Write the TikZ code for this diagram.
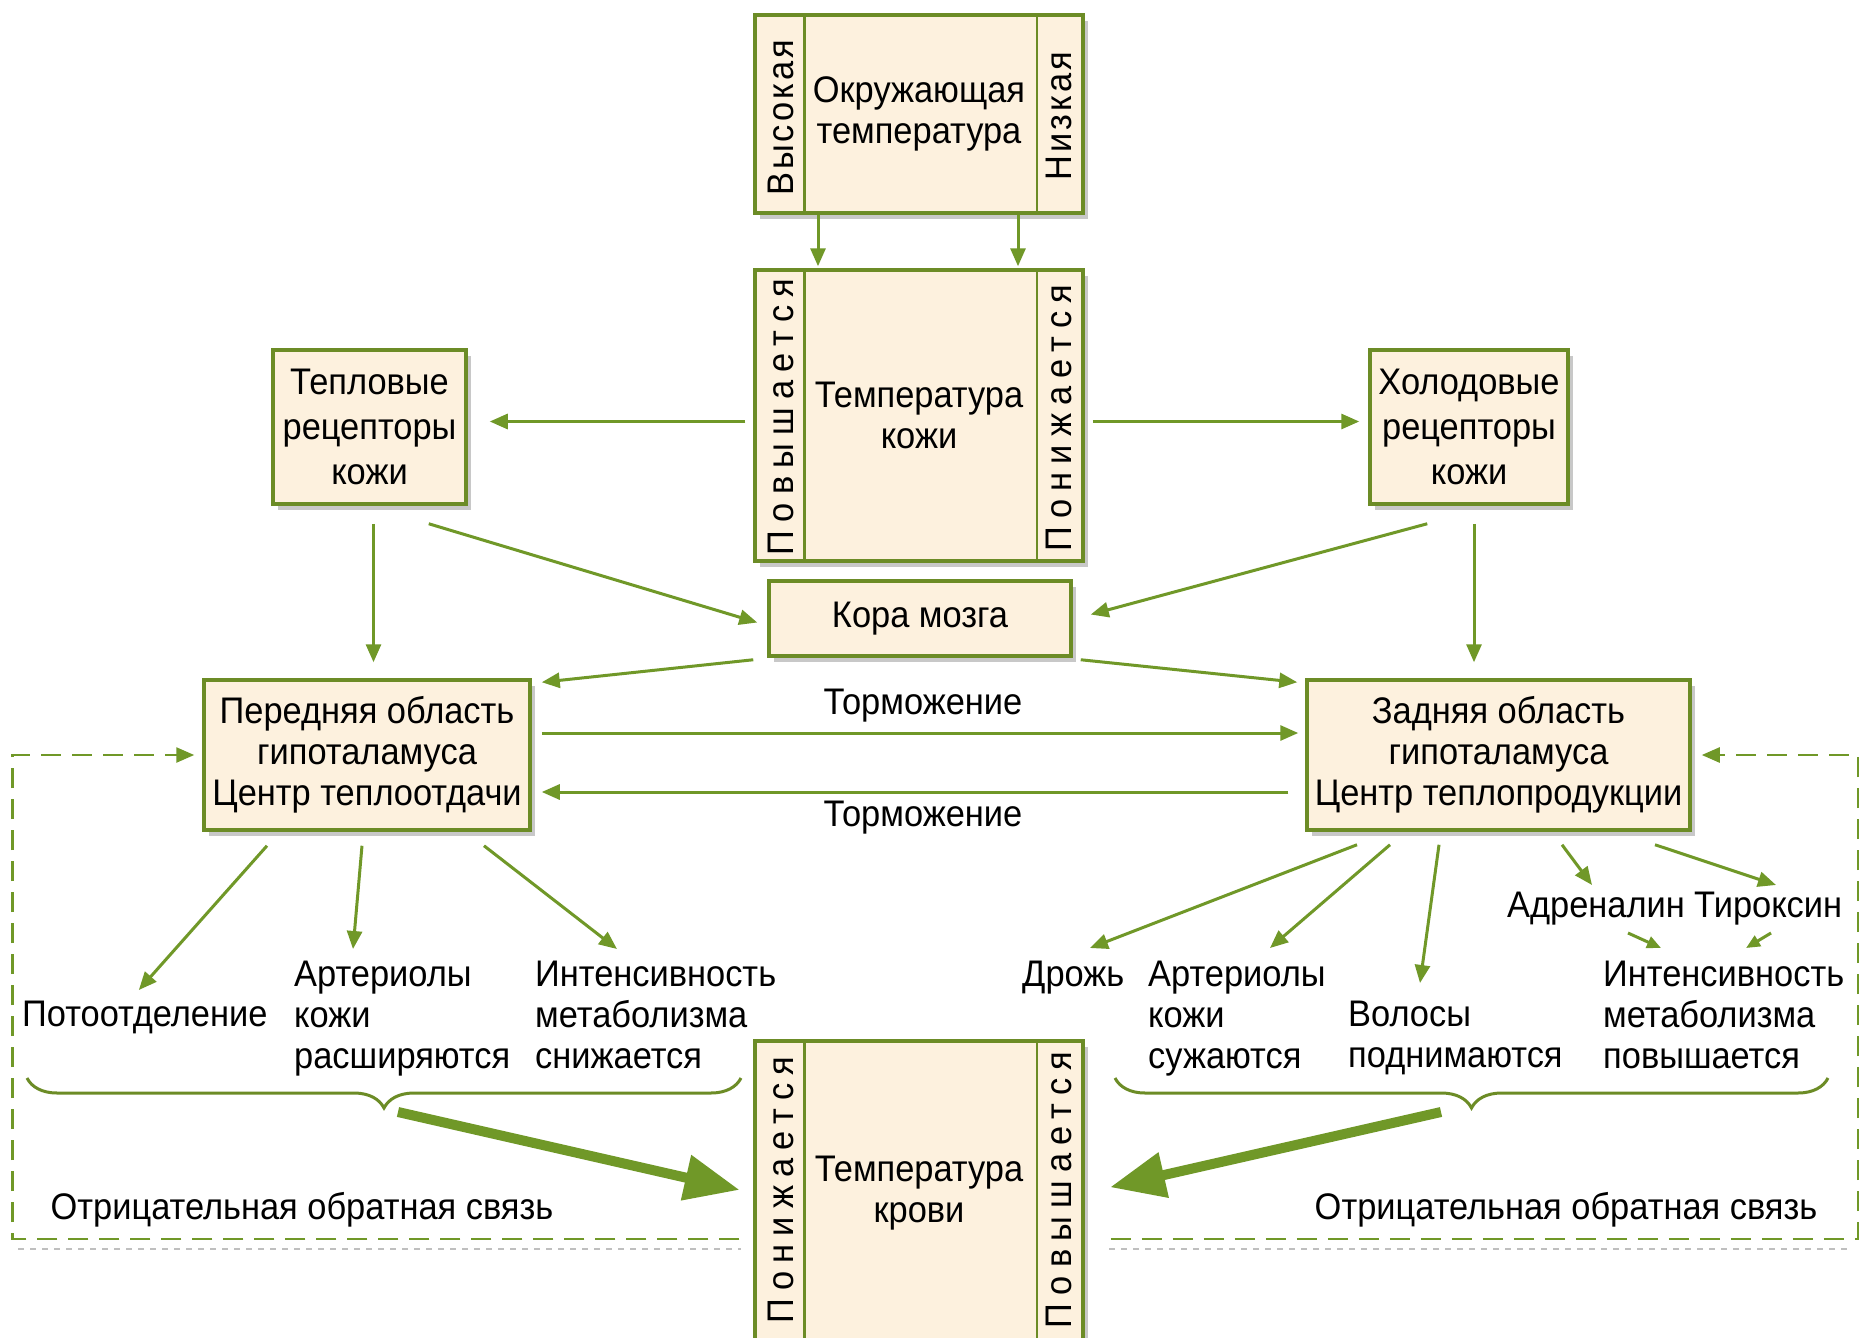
\documentclass[tikz,border=0pt]{standalone}
\usepackage{fontspec}
\setmainfont{Liberation Sans}[FakeStretch=0.93]
\newfontfamily\spcA{Liberation Sans}[FakeStretch=0.93,LetterSpace=22]
\newfontfamily\spcB{Liberation Sans}[FakeStretch=0.93,LetterSpace=8]
\usetikzlibrary{arrows.meta,shadows,decorations.pathreplacing,calc}
\definecolor{bord}{RGB}{108,140,38}
\definecolor{arrg}{RGB}{112,152,40}
\definecolor{fillb}{RGB}{253,241,222}
\newcommand\fsz{\fontsize{37}{41}\selectfont}
\newcommand\fszw{\fontsize{37}{45}\selectfont}
\begin{document}
\begin{tikzpicture}[x=1pt,y=-1pt,
  box/.style={draw=bord,line width=3.5pt,fill=fillb,align=center,inner sep=0pt,font=\fsz,
    drop shadow={shadow xshift=5pt,shadow yshift=-6pt,opacity=0.3,fill=black!70}},
  vlab/.style={rotate=90,inner sep=0pt},
  divider/.style={draw=bord,line width=2.5pt},
  ar/.style={draw=arrg,line width=3pt,-{Triangle[length=18pt,width=15pt]}},
  bigar/.style={draw=arrg,line width=10pt,-{Triangle[length=55pt,width=44pt]}},
  fb/.style={draw=arrg,line width=2.5pt,dash pattern=on 20pt off 11pt,-{Triangle[length=18pt,width=15pt]}},
  fbsh/.style={draw=black!25,line width=2.5pt,dash pattern=on 6pt off 6pt},
  brc/.style={draw=bord,line width=3pt,decorate,decoration={brace,mirror,amplitude=30pt}},
  txt/.style={inner sep=0pt,anchor=north west,align=left,font=\fsz},
  lbl/.style={inner sep=0pt,font=\fsz}]
\useasboundingbox (0,0) rectangle (1860,1338);
\clip (0,0) rectangle (1860,1338);
\fill[white] (0,0) rectangle (1860,1338);

% ---- boxes
\node[box,minimum width=328pt,minimum height=198pt] (env) at (919,114) {Окружающая\\температура};
\node[box,minimum width=328pt,minimum height=291pt] (skin) at (919,415.5) {Температура\\кожи};
\node[box,minimum width=328pt,minimum height=304pt] (blood) at (919,1193) {Температура\\крови};
\node[box,font=\fszw,minimum width=193pt,minimum height=154pt] (tep) at (369.5,427) {Тепловые\\рецепторы\\кожи};
\node[box,font=\fszw,minimum width=198pt,minimum height=154pt] (hol) at (1469,427) {Холодовые\\рецепторы\\кожи};
\node[box,minimum width=302pt,minimum height=75pt] (cortex) at (920,618.5) {Кора мозга};
\node[box,minimum width=326pt,minimum height=150pt] (ant) at (367,755) {Передняя область\\гипоталамуса\\Центр теплоотдачи};
\node[box,minimum width=383pt,minimum height=150pt] (post) at (1498.5,755) {Задняя область\\гипоталамуса\\Центр теплопродукции};

% ---- strips
\foreach \b in {env,skin,blood}{
  \draw[divider] ([xshift=51pt]\b.north west) -- ([xshift=51pt]\b.south west);
  \draw[divider] ([xshift=-48pt]\b.north east) -- ([xshift=-48pt]\b.south east);
}
\node[vlab,font=\spcB\fsz] (envL) at (781,118) {Высокая};
\node[vlab,font=\spcB\fsz] (envR) at (1059,116) {Низкая};
\node[vlab,font=\spcA\fsz] (skinL) at (781,417) {Повышается};
\node[vlab,font=\spcA\fsz] (skinR) at (1059,418) {Понижается};
\node[vlab,font=\spcA\fsz] (bloodL) at (781,1190) {Понижается};
\node[vlab,font=\spcA\fsz] (bloodR) at (1059,1190) {Повышается};

% ---- text labels
\node[lbl] (tor1) at (923,706) {Торможение};
\node[lbl] (tor2) at (923,818) {Торможение};
\node[txt] (pot) at (22,1001) {Потоотделение};
\node[txt] (artL) at (294,961) {Артериолы\\кожи\\расширяются};
\node[txt] (intL) at (535,961) {Интенсивность\\метаболизма\\снижается};
\node[txt] (drozh) at (1022,961) {Дрожь};
\node[txt] (artR) at (1148,961) {Артериолы\\кожи\\сужаются};
\node[txt] (vol) at (1348,1001) {Волосы\\поднимаются};
\node[txt] (adr) at (1507,892) {Адреналин};
\node[txt] (tir) at (1694,892) {Тироксин};
\node[txt] (intR) at (1603,961) {Интенсивность\\метаболизма\\повышается};
\node[lbl] (negL) at (302,1210) {Отрицательная обратная связь};
\node[lbl] (negR) at (1566,1210) {Отрицательная обратная связь};

% ---- arrows, top part
\draw[ar,shorten >=2pt] ([xshift=-101pt]env.south) -- ([xshift=-101pt]skin.north);
\draw[ar,shorten >=2pt] ([xshift=99pt]env.south) -- ([xshift=99pt]skin.north);
\draw[ar,shorten <=8pt,shorten >=22pt] ([yshift=-6pt]skin.west) -- ([yshift=-6pt]skin.west -| tep.east);
\draw[ar,shorten <=8pt,shorten >=9pt] ([yshift=-6pt]skin.east) -- ([yshift=-6pt]skin.east -| hol.west);
\draw[ar,shorten <=18pt,shorten >=16pt] ([xshift=4pt]tep.south) -- ([xshift=4pt]tep.south |- ant.north);
\draw[ar,shorten <=18pt,shorten >=16pt] ([xshift=5pt]hol.south) -- ([xshift=5pt]hol.south |- post.north);
\draw[ar] ($(tep.south east)+(-39,18)$) -- ($(cortex.west)+(-10,4)$);
\draw[ar] ($(hol.south west)+(59,18)$) -- ($(cortex.east)+(18,-4)$);
\draw[ar] ($(cortex.south west)+(-14,2)$) -- ($(ant.north east)+(10,4)$);
\draw[ar] ($(cortex.south east)+(8,2)$) -- ($(post.north west)+(-8,4)$);
\draw[ar] ($(ant.east)+(10,-22)$) -- ($(post.west)+(-7,-22)$);
\draw[ar] ($(post.west)+(-17,37)$) -- ($(ant.east)+(10,37)$);

% ---- outputs
\draw[ar] ($(ant.south)+(-100,14)$) -- ($(pot.north)+(-6,-11)$);
\draw[ar] ($(ant.south)+(-5,14)$) -- ($(artL.north west)+(59,-12)$);
\draw[ar] ($(ant.south)+(117,14)$) -- ($(intL.north west)+(82,-12)$);
\draw[ar] ($(post.south)+(-141.5,13)$) -- ($(drozh.north west)+(68,-13)$);
\draw[ar] ($(post.south)+(-108.5,13)$) -- ($(artR.north west)+(122,-13)$);
\draw[ar] ($(post.south)+(-59.5,13)$) -- ($(vol.north west)+(72,-18)$);
\draw[ar] ($(post.south)+(63.5,13)$) -- ($(adr.north west)+(85,-7)$);
\draw[ar] ($(post.south)+(156.5,13)$) -- ($(tir.north west)+(82,-7)$);
\draw[ar,-{Triangle[length=14pt,width=12pt]}] ($(adr.north west)+(121,41)$) -- ($(intR.north west)+(58,-13)$);
\draw[ar,-{Triangle[length=14pt,width=12pt]}] ($(tir.north west)+(77,41)$) -- ($(intR.north west)+(143,-13)$);

% ---- braces and big arrows
\draw[brc] (27,1078) -- (741,1078);
\draw[brc] (1115,1078) -- (1828,1078);
\coordinate (lbt) at (398,1112);
\coordinate (rbt) at (1441,1112);
\draw[bigar,shorten >=14pt] (lbt) -- (blood.west);
\draw[bigar,shorten >=26pt] (rbt) -- (blood.east);

% ---- feedback loops
\draw[fbsh] (18,1249) -- (741,1249);
\draw[fbsh] (1109,1249) -- (1852,1249);
\draw[fb,shorten >=8pt] ($(blood.west)+(-14,46)$) -| ($(ant.west)+(-190,0)$) -- (ant.west);
\draw[fb,shorten >=10pt] ($(blood.east)+(26,46)$) -| ($(post.east)+(166,0)$) -- (post.east);
\end{tikzpicture}
\end{document}
